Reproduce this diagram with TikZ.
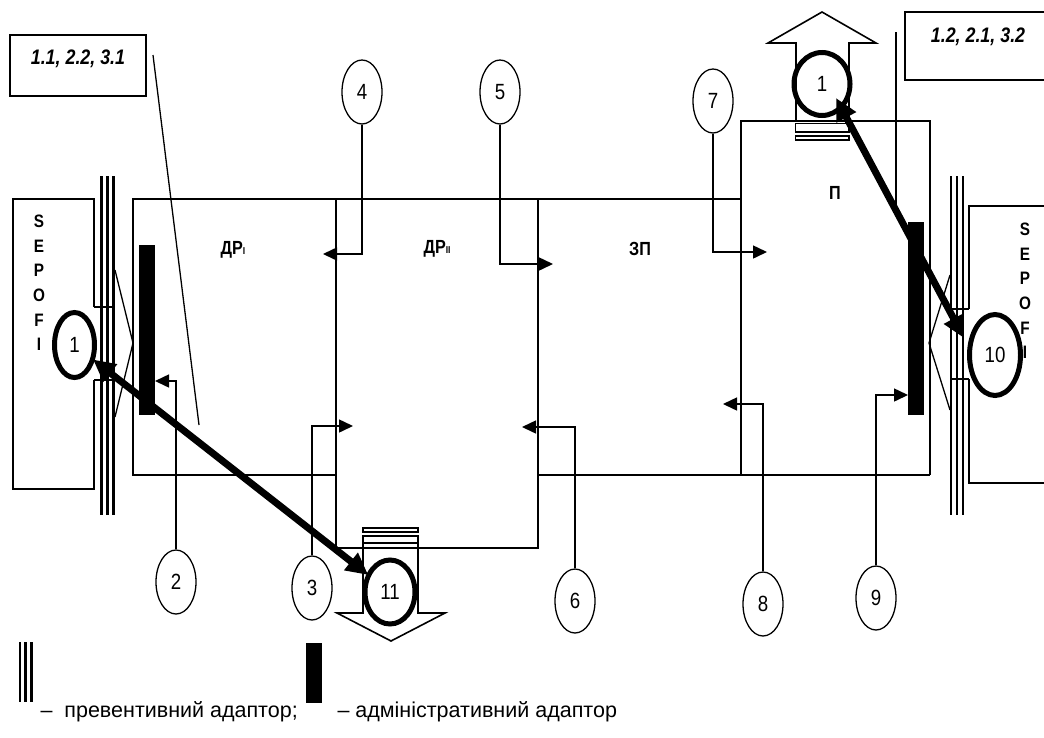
\documentclass[tikz,border=0pt]{standalone}
\usepackage{fontspec}
\setmainfont{Liberation Sans}
\newfontfamily\nar[FakeStretch=0.85]{Liberation Sans}
\usetikzlibrary{arrows.meta,shapes.geometric}
\begin{document}
\begin{tikzpicture}[x=1pt,y=-1pt,
  wall/.style={line width=1.6pt},
  thin/.style={line width=1.3pt},
  num/.style={ellipse, draw, line width=1.3pt, minimum width=40pt, minimum height=64pt, inner sep=0pt, font=\nar\fontsize{22}{22}\selectfont},
  ring/.style={ellipse, draw, line width=5pt, inner sep=0pt, font=\nar\fontsize{22}{22}\selectfont},
  conn/.style={line width=1.5pt, -{Triangle[length=14pt,width=13pt]}},
  bold/.style={line width=7pt, {Triangle[length=22pt,width=21pt]}-{Triangle[length=22pt,width=21pt]}, shorten <=-2pt, shorten >=-2pt},
  tag/.style={font=\nar\bfseries\fontsize{19}{19}\selectfont},
  lbl/.style={font=\nar\bfseries\itshape\fontsize{21}{21}\selectfont},
  sepofi/.style={align=center, font=\nar\bfseries\fontsize{18}{24.6}\selectfont},
  triple/.style={line width=2.6pt},
  adm/.style={fill=black},
  legend/.style={anchor=west, font=\fontsize{21.5}{21.5}\selectfont}
]
\useasboundingbox (0,0) rectangle (1044,737);

% main structure
\draw[wall] (741,199) -- (133,199) -- (133,475) -- (336,475);
\draw[wall] (538,475) -- (930,475);
\draw[wall] (336,199) -- (336,548) -- (538,548) -- (538,199);
\draw[wall] (741,475) -- (741,121) -- (930,121) -- (930,475);

% labels inside
\node[tag] (dr1) at (233,250) {ДР{\fontsize{10}{10}\selectfont I}};
\node[tag] (dr2) at (437,249) {ДР{\fontsize{10}{10}\selectfont II}};
\node[tag] (zp) at (640,249) {ЗП};
\node[tag] (pp) at (835,193) {П};

% left SEPOFI box
\draw[wall] (94,307) -- (94,199) -- (13,199) -- (13,489) -- (94,489) -- (94,380);
\draw[wall] (94,307) -- (113,307);
\draw[wall] (94,380) -- (113,380);
\node[sepofi] (sl) at (39,283) {S\\E\\P\\O\\F\\I};
% left preventive adapter
\draw[triple] (101.5,176) -- (101.5,515);
\draw[triple] (107.5,176) -- (107.5,515);
\draw[triple] (113.5,176) -- (113.5,515);
\draw[thin] (115,270) -- (133,343) -- (115,417);
% left administrative adapter
\fill[adm] (139,245) rectangle (155,415);

% right SEPOFI box
\draw[wall] (969,309) -- (969,206) -- (1050,206);
\draw[wall] (969,379) -- (969,483) -- (1050,483);
\draw[wall] (950,309) -- (969,309);
\draw[wall] (950,379) -- (969,379);
\node[sepofi] (sr) at (1025,291) {S\\E\\P\\O\\F\\I};
\draw[triple] (951,176) -- (951,515);
\draw[triple] (957,176) -- (957,515);
\draw[triple] (963,176) -- (963,515);
\draw[thin] (950,275) -- (929,343) -- (950,410);
\fill[adm] (908,222) rectangle (924,415);

% up hollow arrow
\draw[wall] (796,120) -- (796,43) -- (768,43) -- (822,12) -- (876,43) -- (849,43) -- (849,120);
\draw[thin] (795.5,123.5) rectangle (849,132);
\draw[thin] (795.5,136) rectangle (849,140);
% down hollow arrow
\draw[wall] (363,543) -- (363,613) -- (337,613) -- (391,641) -- (445,613) -- (418,613) -- (418,543);
\draw[thin] (363,528) rectangle (418,532);
\draw[thin] (363,536) rectangle (418,543);

% label boxes
\draw[wall] (10,35) rectangle (146,96);
\node[lbl] (l1) at (78,59) {1.1, 2.2, 3.1};
\coordinate (l1a) at (153,55);
\coordinate (l1b) at (199,425);
\draw[thin] (l1a) -- (l1b);
\draw[wall] (1050,12) -- (905,12) -- (905,80) -- (1050,80);
\node[lbl] (l2) at (978,37) {1.2, 2.1, 3.2};
\coordinate (l2a) at (896,32);
\coordinate (l2b) at (896,205);
\draw[thin] (l2a) -- (l2b);

% numbered ellipses
\node[num] (n2) at (176,582) {2};
\node[num] (n3) at (312,588) {3};
\node[num] (n4) at (362,92) {4};
\node[num] (n5) at (500,92) {5};
\node[num] (n6) at (575,601) {6};
\node[num] (n7) at (713,101) {7};
\node[num] (n8) at (763,604) {8};
\node[num] (n9) at (876,598) {9};

\coordinate (t2) at (155,381);
\coordinate (t3) at (353,426);
\coordinate (t4) at (323,254);
\coordinate (t5) at (553,264);
\coordinate (t6) at (522,427);
\coordinate (t7) at (767,252);
\coordinate (t8) at (723,404);
\coordinate (t9) at (908,395);
\draw[conn] (n2.north) |- (t2);
\draw[conn] (n3.north) |- (t3);
\draw[conn] (n4.south) |- (t4);
\draw[conn] (n5.south) |- (t5);
\draw[conn] (n6.north) |- (t6);
\draw[conn] (n7.south) |- (t7);
\draw[conn] (n8.north) |- (t8);
\draw[conn] (n9.north) |- (t9);

% thick rings
\node[ring, minimum width=40pt, minimum height=65pt] (c1) at (74.5,345) {1};
\node[ring, minimum width=50pt, minimum height=64pt] (c11) at (390,592) {11};
\node[ring, minimum width=56pt, minimum height=63pt] (c1t) at (822,84) {1};
\node[ring, minimum width=51pt, minimum height=81pt] (c10) at (995,355) {10};

% bold double arrows
\draw[bold] (c1) -- (c11);
\coordinate (r1) at (836,98);
\coordinate (r2) at (964,338);
\draw[bold, shorten <=0pt, shorten >=0pt] (r1) -- (r2);

% legend
\draw[triple] (20,642) -- (20,702);
\draw[triple] (25.7,642) -- (25.7,702);
\draw[triple] (31.7,642) -- (31.7,702);
\fill[adm] (306,643) rectangle (322,703);
\node[legend] (lg1) at (37,712) {–\ \ превентивний адаптор;};
\node[legend] (lg2) at (334,712) {– адміністративний адаптор};
\end{tikzpicture}
\end{document}
